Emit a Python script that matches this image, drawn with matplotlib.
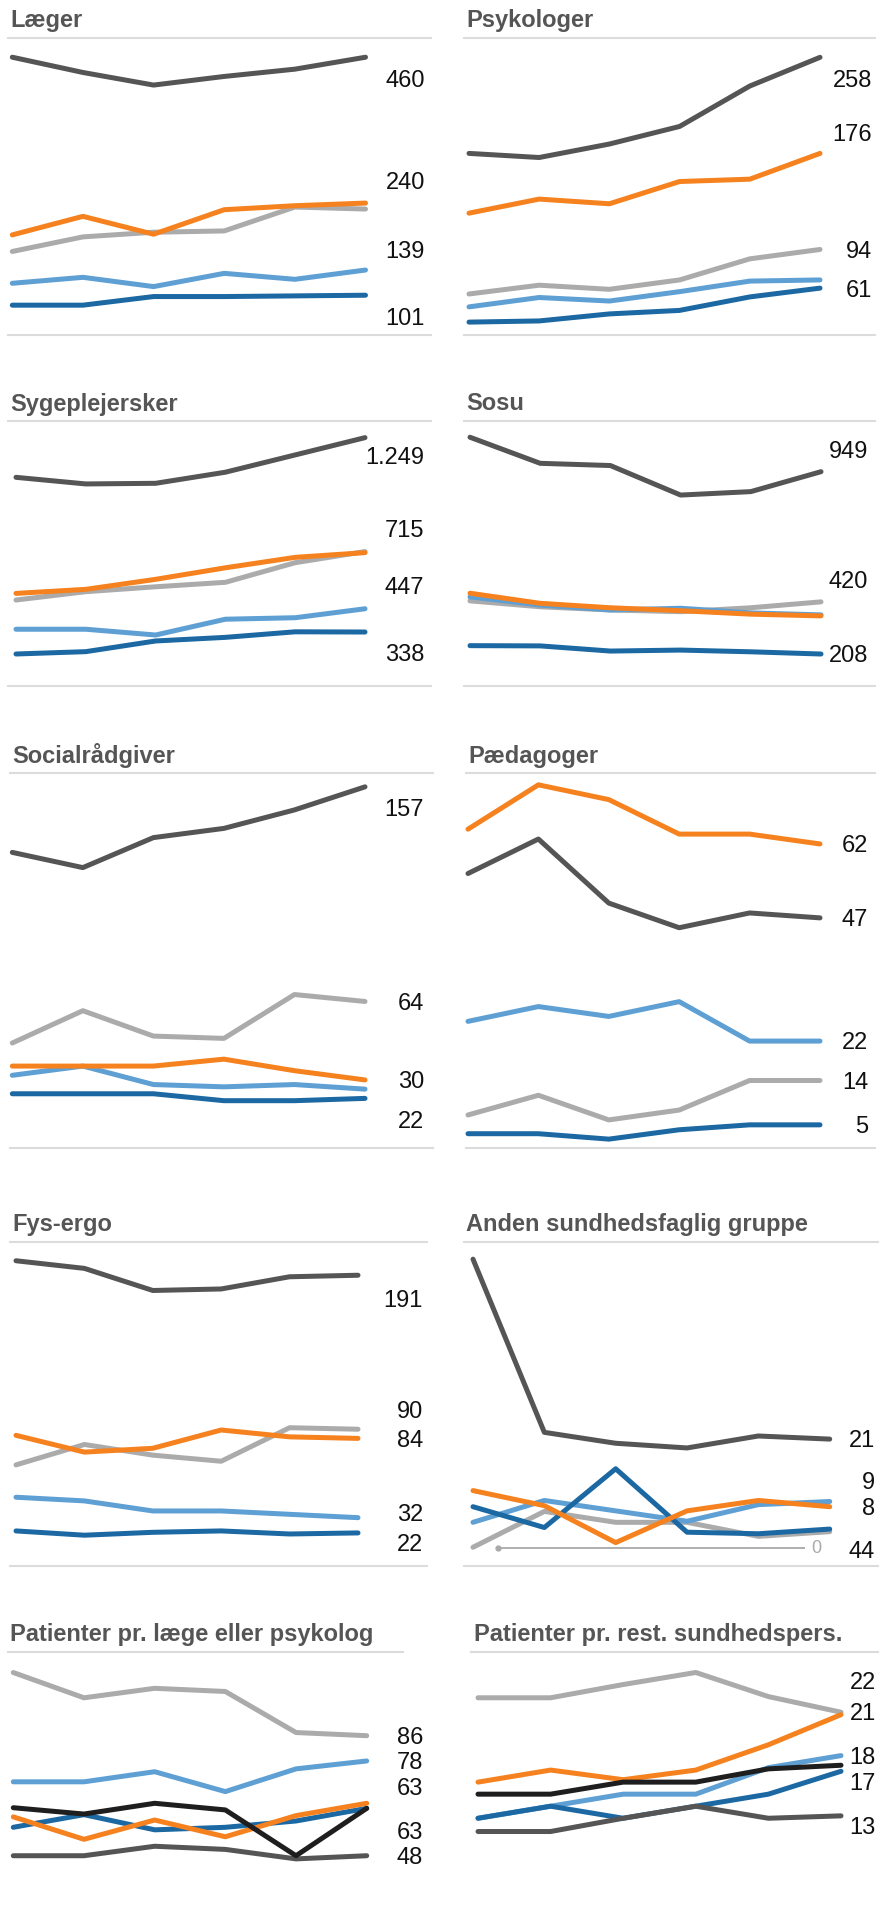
#!/usr/bin/env python3
"""
    Small multiples: staff per group, six periods, one line per series.
"""
import matplotlib
matplotlib.use('Agg')
import matplotlib.pyplot as plt
from matplotlib.lines import Line2D

plt.rcParams['font.family'] = ['Liberation Sans', 'DejaVu Sans']

# Six periods on the x axis
periods = [0, 1, 2, 3, 4, 5]

# ---- data ----
laeger = {
    'lightgray': [167, 189, 196, 198, 234, 231],
    'lightblue': [119, 128, 114, 134, 125, 139],
    'darkblue': [86, 86, 99, 99, 100, 101],
    'darkgray': [460, 437, 418, 431, 442, 460],
    'orange': [192, 220, 193, 230, 236, 240],
}
laeger_labels = ['460', '240', '139', '101']

psykologer = {
    'lightgray': [56, 63.5, 60, 68, 86, 94],
    'lightblue': [45, 53, 50, 58, 67, 68],
    'darkblue': [32, 33, 39, 42, 53.5, 61],
    'darkgray': [176, 172.5, 184, 199, 233.5, 258],
    'orange': [125, 137, 133, 152, 154, 176],
}
psykologer_labels = ['258', '176', '94', '61']

sygeplejersker = {
    'lightgray': [488, 527, 550, 571, 663, 715],
    'lightblue': [351, 351, 324, 398, 405, 447],
    'darkblue': [235, 246, 296, 313, 339, 338],
    'darkgray': [1063, 1032, 1035, 1087, 1168, 1249],
    'orange': [519, 538, 585, 639, 688, 710],
}
sygeplejersker_labels = ['1.249', '715', '447', '338']

sosu = {
    'lightgray': [424, 400, 387, 380, 396, 420],
    'lightblue': [440, 407, 387, 394, 375, 367],
    'darkblue': [242, 241, 220, 224, 217, 208],
    'darkgray': [1089, 983, 974, 854, 868, 949],
    'orange': [455, 414, 396, 384, 370, 363],
}
sosu_labels = ['949', '420', '208']

socialraadgiver = {
    'lightgray': [46, 60, 49, 48, 67, 64],
    'lightblue': [32, 36, 28, 27, 28, 26],
    'darkblue': [24, 24, 24, 21, 21, 22],
    'darkgray': [128.6, 122, 135, 139, 147, 157],
    'orange': [36, 36, 36, 39, 34, 30],
}
socialraadgiver_labels = ['157', '64', '30', '22']

paedagoger = {
    'lightgray': [7, 11, 6, 8, 14, 14],
    'lightblue': [26, 29, 27, 30, 22, 22],
    'darkblue': [3.2, 3.2, 2.1, 4, 5, 5],
    'darkgray': [56, 63, 50, 45, 48, 47],
    'orange': [65, 74, 71, 64, 64, 62],
}
paedagoger_labels = ['62', '47', '22', '14', '5']

fys_ergo = {
    'lightgray': [66.6, 80, 73, 69, 91, 90],
    'lightblue': [45.4, 43, 36.4, 36.4, 34.2, 32],
    'darkblue': [23.3, 20.5, 22.4, 23.3, 21.3, 22],
    'darkgray': [200.5, 195.5, 181, 182, 190, 191],
    'orange': [86, 75, 77.5, 89.5, 85, 84],
}
fys_ergo_labels = ['191', '90', '84', '32', '22']

anden = {
    'lightgray': [0.2, 7.1, 5, 5, 2.3, 3.2],
    'lightblue': [5, 9.2, 7.2, 5.2, 8.4, 9],
    'darkblue': [8, 4, 15.3, 3.1, 2.8, 3.7],
    'darkgray': [55.6, 22.3, 20.2, 19.3, 21.6, 21],
    'orange': [11.1, 8.2, 1.1, 7.2, 9.2, 8],
}
anden_labels = ['21', '9', '8', '44']

pat_laege = {
    'lightgray': [106, 98, 101, 100, 87, 86],
    'lightblue': [71.4, 71.4, 74.6, 68.3, 75.5, 78],
    'darkblue': [57, 61, 56.2, 57, 59, 63],
    'darkgray': [48, 48, 51, 50, 47, 48],
    'orange': [60.3, 53.2, 59.3, 54, 60.7, 64.6],
    'black': [63.2, 61.2, 64.6, 62.5, 48, 63],
}
pat_laege_labels = ['86', '78', '63', '63', '48']

pat_rest = {
    'lightgray': [22.8, 22.8, 23.9, 24.9, 22.9, 21.6],
    'lightblue': [12.8, 13.8, 14.8, 14.8, 17, 18],
    'darkblue': [12.8, 13.8, 12.8, 13.8, 14.8, 16.7],
    'darkgray': [11.7, 11.7, 12.8, 13.8, 12.8, 13],
    'orange': [15.8, 16.8, 16, 16.8, 18.9, 21.4],
    'black': [14.8, 14.8, 15.8, 15.8, 16.9, 17.2],
}
pat_rest_labels = ['22', '21', '18', '17', '13']

# ---- styling ----
colors = {
    'lightgray': '#ababab',
    'lightblue': '#5e9fd4',
    'darkblue': '#1c68a3',
    'darkgray': '#555555',
    'orange': '#f5821f',
    'black': '#1e1e1e',
}
zorders = {'lightgray': 1, 'lightblue': 2, 'darkblue': 3, 'darkgray': 4, 'orange': 5, 'black': 6}

W, H = 886, 1905

def fx(px):
    return px / W

def fy(py):
    return 1 - py / H

# rows: (top rule y, bottom rule y or None, axes bottom y)
rows = [(38, 335, 335), (421, 686, 686), (773, 1148, 1148), (1242, 1566, 1566), (1652, None, 1905)]

# panels: title, data, labels, row, col, rule x span, data x span, ylim,
#         label anchors [(series, offset px)], label right edge
panels = [
    ('Læger', laeger, laeger_labels, 0, 0, (8, 431), (12.3, 365.5), (41, 489),
     [('darkgray', 21.7), ('orange', -22), ('lightblue', -20), ('darkblue', 21)], 425),
    ('Psykologer', psykologer, psykologer_labels, 0, 1, (464, 875), (469, 820), (21, 274.5),
     [('darkgray', 21.7), ('orange', -20.6), ('lightgray', 0), ('darkblue', 1)], 872),
    ('Sygeplejersker', sygeplejersker, sygeplejersker_labels, 1, 0, (8, 431), (16, 365), (85, 1327),
     [('darkgray', 18), ('lightgray', -22.7), ('lightblue', -22.6), ('darkblue', 20.7)], 424),
    ('Sosu', sosu, sosu_labels, 1, 1, (464, 875), (470, 821), (78, 1155),
     [('darkgray', -22.4), ('lightgray', -22.4), ('darkblue', 0)], 868),
    ('Socialrådgiver', socialraadgiver, socialraadgiver_labels, 2, 0, (10, 433), (12.3, 365), (0.5, 163),
     [('darkgray', 21), ('lightgray', 0), ('orange', 0), ('darkblue', 21)], 424),
    ('Pædagoger', paedagoger, paedagoger_labels, 2, 1, (466, 875), (468, 820), (0.3, 76.4),
     [('orange', 0), ('darkgray', 0), ('lightblue', 0), ('lightgray', 0), ('darkblue', 0)], 868),
    ('Fys-ergo', fys_ergo, fys_ergo_labels, 3, 0, (10, 427), (16, 358), (0.3, 212.8),
     [('darkgray', 23), ('lightgray', -20), ('orange', 0), ('lightblue', -4.6), ('darkblue', 9.7)], 423),
    ('Anden sundhedsfaglig gruppe', anden, anden_labels, 3, 1, (464, 878), (473, 829.7), (-3.4, 58.9),
     [('darkgray', 0), ('lightblue', -21), ('orange', 0), ('lightgray', 18.3)], 875),
    ('Patienter pr. læge eller psykolog', pat_laege, pat_laege_labels, 4, 0, (8, 403), (13.3, 366.7), (32.4, 112.5),
     [('lightgray', 0), ('lightblue', 0), ('black', -22), ('darkblue', 22), ('darkgray', 0)], 423),
    ('Patienter pr. rest. sundhedspers.', pat_rest, pat_rest_labels, 4, 1, (471, 878), (478, 841), (5.6, 26.6),
     [('lightgray', -32), ('orange', -3), ('lightblue', 0), ('black', 16), ('darkgray', 10)], 876),
]

fig = plt.figure(figsize=(W / 100, H / 100), dpi=100)

for title, data, labels, r, c, rule, dspan, ylim, anchors, label_right in panels:
    top, bottom, ax_bottom = rows[r]
    x0, x1 = rule
    # axes as wide as the rule line (plus room for labels on the right)
    ax_x1 = max(x1, label_right + 2)
    ax = fig.add_axes([fx(x0), fy(ax_bottom), (ax_x1 - x0) / W, (ax_bottom - top) / H])
    per = (dspan[1] - dspan[0]) / (len(periods) - 1)
    ax.set_xlim(periods[0] - (dspan[0] - x0) / per, periods[-1] + (ax_x1 - dspan[1]) / per)
    ax.set_ylim(*ylim)
    ax.axis('off')

    for key, values in data.items():
        ax.plot(periods, values, color=colors[key], lw=3.6, solid_capstyle='round',
                solid_joinstyle='round', zorder=zorders[key], clip_on=False)

    for text, (key, off) in zip(labels, anchors):
        dx = (label_right - dspan[1]) * 0.72
        dy = -(off + 8.3) * 0.72
        ax.annotate(text, xy=(periods[-1], data[key][-1]), xytext=(dx, dy),
                    textcoords='offset points', ha='right', va='baseline',
                    fontsize=17, color='#111111')

    if title == 'Anden sundhedsfaglig gruppe':
        # thin zero reference line with its label
        ax.hlines(0, 0.35, 4.65, color='#999999', lw=1.1, zorder=0)
        ax.plot([0.35], [0], 'o', ms=3.5, color='#aaaaaa', zorder=0)
        ax.annotate('0', xy=(4.65, 0), xytext=(5, 0), textcoords='offset points',
                    ha='left', va='center', fontsize=13, color='#aaaaaa')

    # rule lines
    fig.add_artist(Line2D([fx(x0), fx(x1)], [fy(top), fy(top)], color='#dcdcdc', lw=1.5))
    if bottom is not None:
        fig.add_artist(Line2D([fx(x0), fx(x1)], [fy(bottom), fy(bottom)], color='#dcdcdc', lw=1.5))

    fig.text(fx(x0 + 2.5), fy(top - 10.5), title, fontsize=17, fontweight='bold',
             color='#555555', ha='left', va='baseline')

fig.savefig('out.png', dpi=100)
